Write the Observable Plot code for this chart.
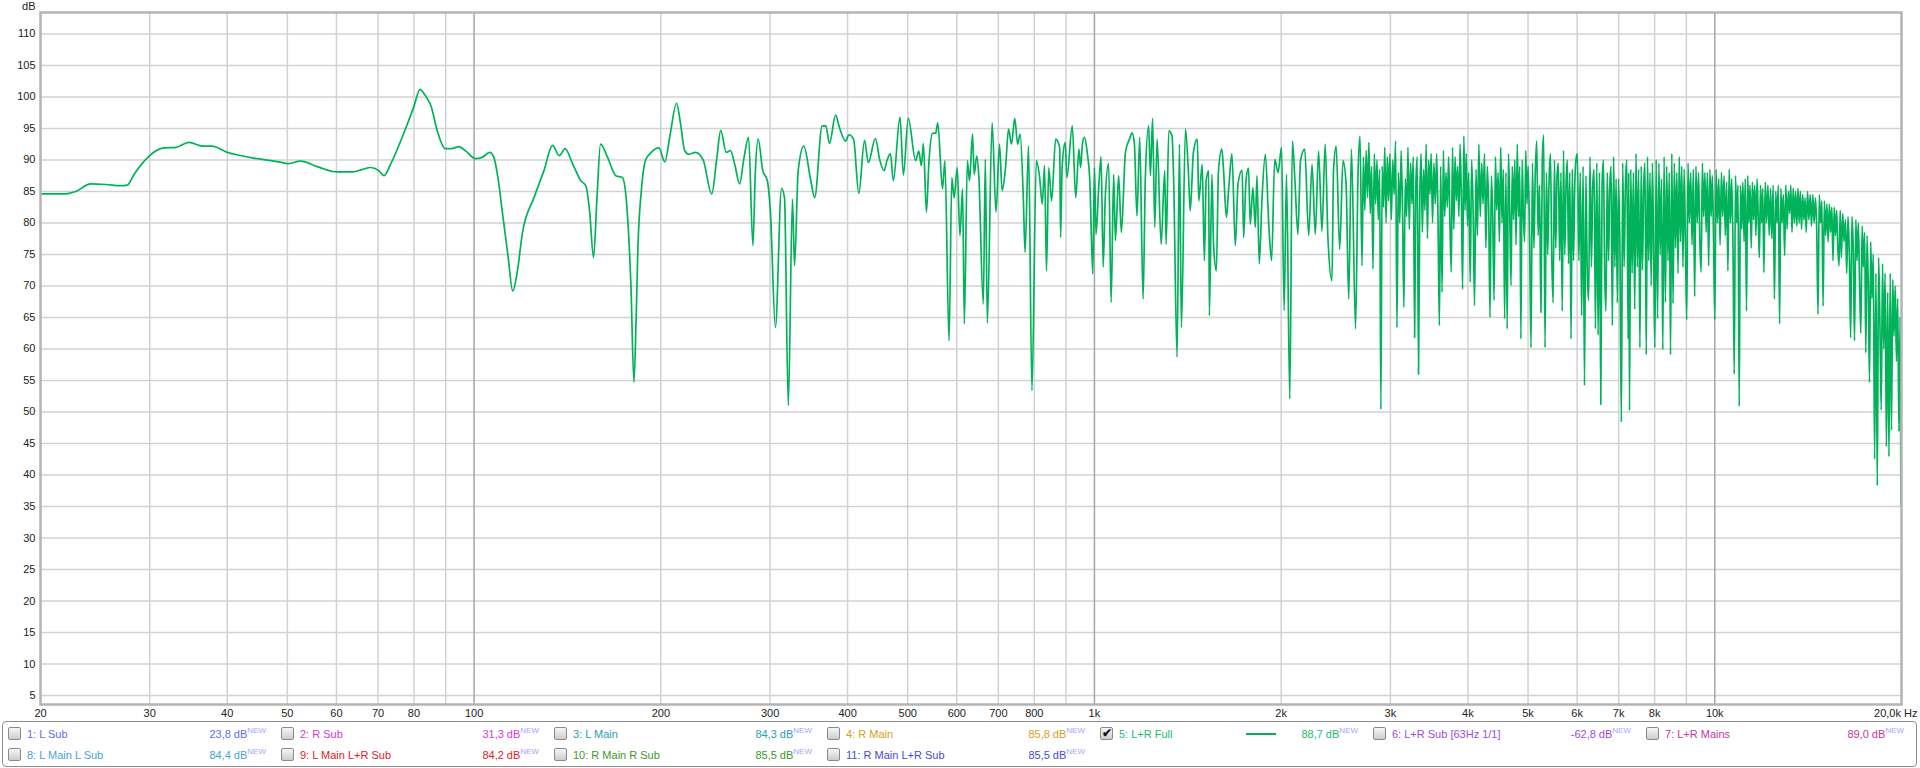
<!DOCTYPE html>
<html><head><meta charset="utf-8">
<script src="https://cdn.jsdelivr.net/npm/d3@7"></script>
<script src="https://cdn.jsdelivr.net/npm/@observablehq/plot@0.6"></script>
<style>
html,body{margin:0;padding:0;background:#fff;width:1920px;height:768px;overflow:hidden;font-family:"Liberation Sans",Arial,sans-serif;}
#chart{position:absolute;left:0;top:0;}
#legend{position:absolute;left:2px;top:721px;width:1915px;height:46px;border:1px solid #8c8c8c;border-radius:4px;box-sizing:border-box;background:#fff;}
.item{position:absolute;height:14px;width:272px;font-size:11px;line-height:14px;white-space:nowrap;}
.cb{position:absolute;left:0;top:0;width:11px;height:11px;border:1px solid #8a8a8a;border-radius:2px;background:linear-gradient(#f6f6f6,#cdcdcd);font-size:12px;line-height:11px;text-align:center;color:#111;font-weight:bold;}
.lab{position:absolute;left:19px;top:0;}
.val{position:absolute;left:140px;width:118px;top:0;text-align:right;}
.val sup{font-size:8px;color:#a4a4ff;vertical-align:top;position:relative;top:-3px;}
.sample{position:absolute;left:146px;width:30px;top:6px;height:2px;}
</style>
</head><body>
<div id="chart"></div>
<div id="legend"></div>
<script>
// Measured response, 20 Hz - 2.68 kHz
const lowFreqHz = [20,21.8,22.8,24.1,25.5,26.9,27.6,28.3,29.2,30,31.6,33.1,34.7,36.5,37.8,40,42,44.1,46.1,48.5,50,52.5,56,60,63.8,66,68.1,70.2,71.6,73.5,77,80,81.8,83.2,85.2,87.3,89.8,92,94.5,97,100.5,103,106,107.6,109.5,111,113.5,115.4,117.5,119.6,125,129.6,133.8,137.2,140.2,144,148.6,151.4,153.5,155.8,157.8,159.9,164,169.2,173.4,176,179,181,182.5,183.7,186,189,193,198.6,203,207,212,215,218.5,222,227.4,234,241.6,246,249.8,255,259,263,268,272,277,281.5,284,287,292,297,300.5,306,313,316.5,321,326,328.5,333,340,349,354,364,369,374,382.6,388,397,402,409,417,426,432,443.5,451,458,463,469,474,486,492,501,515,521,526,530,536,541,548,555,559,569,574,583,589,594,601,607,613,617,624,629,636,640,646,651,662,667,672,684,694,703,710,719,727,735,744,752,759,768,773,783,793,806,816,824,831,837,844,853,866,879,882,887,897,903,921,933,944,950,957,964,973,983,994,1000,1006,1016,1025,1033,1041,1054,1064,1074,1081,1094,1105,1122,1139,1150,1160,1171,1183,1198,1208,1223,1231,1241,1251,1262,1281,1298,1305,1318,1334,1342,1359,1371,1381,1402,1418,1427,1444,1465,1473,1492,1504,1514,1528,1532,1547,1556,1572,1585,1605,1615,1632,1646,1666,1687,1704,1730,1740,1755,1772,1783,1801,1817,1828,1844,1862,1886,1910,1930,1953,1977,2003,2022,2040,2065,2085,2105,2128,2149,2183,2215,2243,2270,2298,2327,2355,2379,2415,2429,2453,2485,2516,2545,2570,2596,2636,2660,2680];
const lowDb = [84.6,84.6,85.0,86.2,86.1,85.9,86.0,87.7,89.5,90.7,91.9,92.0,92.8,92.2,92.2,91.2,90.7,90.3,90.0,89.7,89.4,89.8,88.9,88.1,88.1,88.5,88.8,88.3,87.5,89.5,94.2,98.5,101.2,100.4,98.6,94.5,91.8,91.8,92.1,91.4,90.2,90.4,91.2,90.4,86.5,81.9,74.5,69.2,72.5,78.3,84.1,88.3,92.3,90.7,91.8,89.5,86.7,85.9,82.0,74.5,84.0,92.5,90.5,87.5,87.2,83.5,70.0,54.7,65.0,76.1,85.0,90.0,91.2,91.9,89.7,94.0,99.0,96.0,91.5,90.9,91.2,90.0,84.6,90.0,94.7,91.2,91.5,89.4,86.2,90.0,93.6,76.4,88.0,93.3,88.3,86.7,81.4,63.4,85.5,84.0,51.0,83.8,73.2,88.3,92.2,86.7,84.0,95.4,95.4,92.6,97.1,95.2,93.0,94.0,93.3,84.7,93.1,89.6,93.4,89.9,88.3,89.9,91.0,86.7,96.8,87.6,96.6,89.9,91.4,89.1,92.6,81.7,89.6,94.2,94.3,95.9,85.4,89.9,61.3,87.2,84.0,88.8,78.0,85.4,64.0,89.9,86.7,94.1,87.7,90.6,87.5,67.1,90.1,64.1,95.9,81.7,92.5,85.1,88.8,94.9,92.5,96.6,92.5,94.1,84.0,75.3,92.2,53.4,89.9,87.2,83.0,89.1,72.4,88.8,83.5,93.3,92.0,77.7,88.8,92.8,87.2,95.4,84.0,91.7,88.8,92.8,93.6,91.4,86.7,71.9,88.8,78.2,85.6,90.5,73.0,84.0,89.4,67.4,87.7,77.2,87.5,78.5,91.2,93.3,94.3,92.5,81.1,93.6,67.9,87.2,95.4,87.5,96.6,79.3,93.3,76.6,88.3,76.6,94.6,93.8,86.7,58.7,92.5,63.4,94.9,87.7,81.9,91.2,93.3,83.5,89.3,74.0,86.7,88.3,65.3,87.7,76.6,72.4,88.3,91.7,88.3,80.9,85.4,91.0,76.4,86.2,88.4,77.7,86.7,88.7,79.8,85.6,79.3,87.5,73.5,83.5,90.9,79.8,74.0,90.1,88.0,92.0,66.1,87.7,52.1,93.0,86.7,78.2,89.9,91.7,78.0,89.3,78.2,91.4,78.7,92.5,77.7,70.8,88.3,92.2,75.8,89.9,86.2,67.9,91.7,63.2,87.7,93.8];

// Measured response, 2.7 kHz - 20 kHz (dense part)
const hfFreqHz = [
2700,2714,2728,2742,2756,2770,2784,2798,2812,2826,2840,2854,2868,2882,2896,2910,2924,2938,2952,2966,2980,2994,
3010,3026,3042,3058,3074,3090,3106,3122,3138,3154,3170,3186,3202,3218,3234,3250,3266,3282,3298,3314,3330,3346,3362,3378,3394,3410,3426,3442,3458,3474,3490,
3508,3526,3544,3562,3580,3598,3616,3634,3652,3670,3688,3706,3724,3742,3760,3778,3796,3814,3832,3850,3868,3886,3904,3922,3940,3958,3976,3994,
4012,4034,4056,4078,4100,4122,4144,4166,4188,4210,4232,4254,4276,4298,4320,4342,4364,4386,4408,4430,4452,4474,4496,4518,4540,4562,4584,4606,4628,4650,4672,4694,4716,4738,4760,4782,4804,4826,4848,4870,4892,4914,4936,4958,4980,
5002,5029,5056,5083,5110,5137,5164,5191,5218,5245,5272,5299,5326,5353,5380,5407,5434,5461,5488,5515,5542,5569,5596,5623,5650,5677,5704,5731,5758,5785,5812,5839,5866,5893,5920,5947,5974,
6006,6038,6070,6102,6134,6166,6198,6230,6262,6294,6326,6358,6390,6422,6454,6486,6518,6550,6582,6614,6646,6678,6710,6742,6774,6806,6838,6870,6902,6934,6966,6998,
7034,7070,7106,7142,7178,7214,7250,7268,7286,7322,7358,7394,7430,7466,7502,7538,7574,7610,7646,7682,7718,7754,7790,7826,7862,7898,7934,7970,
8006,8046,8086,8126,8166,8206,8246,8286,8326,8366,8406,8446,8486,8526,8566,8606,8646,8686,8726,8766,8806,8846,8886,8926,8966,
9011,9056,9101,9146,9191,9236,9281,9326,9371,9416,9461,9506,9551,9596,9641,9686,9731,9776,9821,9866,9911,9956,10001,
10050,10100,10150,10200,10250,10300,10350,10400,10450,10500,10550,10600,10650,10700,10750,10800,10850,10900,10950,11000,11050,11100,11150,11200,11250,11300,11350,11400,11450,11500,11550,11600,11650,11700,11750,11800,11850,11900,11950,
12000,12060,12120,12180,12240,12300,12360,12420,12480,12540,12600,12660,12720,12780,12840,12900,12960,13020,13080,13140,13200,13260,13320,13380,13440,13500,13560,13620,13680,13740,13800,13860,13920,13980,
14040,14110,14180,14250,14320,14390,14460,14530,14600,14670,14740,14810,14880,14950,15020,15090,15160,15230,15300,15370,15440,15510,15580,15650,15720,15790,15860,15930,
16000,16080,16160,16240,16320,16400,16480,16560,16640,16720,16800,16880,16960,17040,17120,17200,17280,17360,17440,17520,17600,17680,17760,17840,17920,
18010,18100,18190,18280,18370,18460,18550,18640,18730,18820,18910,19000,19090,19180,19270,19360,19450,19540,19630,19720,19810,19900,19960];
const hfDb = [
73.2,90.5,82.0,91.5,84.0,92.8,81.5,89.0,72.7,91.0,83.0,90.0,80.5,88.5,50.4,89.0,82.5,92.0,80.0,90.5,83.5,91.0,
80.5,90.0,84.5,93.0,63.4,88.0,80.0,91.5,82.0,66.6,87.0,81.0,92.0,79.0,89.5,83.0,90.5,61.8,86.5,90.5,56.0,84.0,91.0,78.5,88.5,82.0,92.5,77.5,90.0,84.5,91.0,
80.0,89.5,83.0,91.0,80.5,63.7,89.0,69.0,91.5,81.0,88.0,82.5,90.5,80.0,72.2,92.0,79.0,90.5,83.5,89.0,81.0,92.5,84.0,69.5,93.8,82.0,91.0,79.5,
88.0,70.6,90.0,82.0,66.9,88.5,78.0,92.5,81.0,89.5,83.0,91.0,76.0,89.0,82.5,65.0,87.5,81.0,67.7,90.5,82.0,88.0,77.0,92.0,80.0,88.5,64.8,88.0,63.2,91.0,82.0,70.1,89.0,80.5,90.0,76.5,92.5,81.0,89.0,61.6,90.0,81.5,77.0,91.5,83.0,
89.0,78.0,60.2,89.5,76.0,88.0,93.0,78.0,86.0,65.8,90.0,94.0,60.2,88.0,75.0,87.0,91.0,74.5,67.3,90.0,76.0,87.5,89.5,74.0,88.0,66.0,91.5,75.0,86.0,90.0,73.5,88.0,61.6,88.5,74.0,86.0,90.0,
91.0,74.0,88.0,65.3,89.0,54.2,87.5,72.0,67.7,90.5,73.0,86.0,88.5,63.2,89.5,62.2,88.0,51.2,86.0,90.0,72.0,66.0,88.0,74.0,86.0,89.0,63.7,90.5,73.0,87.0,67.3,87.0,
75.0,48.4,89.5,73.0,86.0,90.0,61.6,88.0,50.2,88.5,72.0,88.0,66.3,91.0,73.0,88.5,60.2,89.0,72.5,86.0,89.5,59.1,90.5,74.0,88.0,70.1,89.5,75.0,
60.2,90.0,64.8,89.5,75.0,87.0,59.9,90.5,67.4,89.0,74.0,88.0,59.1,91.0,67.2,89.5,76.0,88.0,72.0,90.5,77.0,89.0,73.0,88.5,77.5,
64.6,89.5,80.0,88.0,76.5,88.5,68.3,89.0,80.0,88.0,77.0,72.2,89.5,81.0,88.0,78.5,88.0,73.2,88.5,81.0,87.5,77.0,64.6,
88.5,80.0,87.0,76.5,88.0,81.0,87.5,78.0,86.5,72.4,88.5,80.0,87.0,76.5,56.0,87.5,80.0,86.0,50.9,86.0,79.0,86.5,77.0,87.0,66.0,87.5,80.0,86.0,76.0,86.5,80.5,86.0,78.0,87.0,81.0,74.5,86.0,80.0,85.5,
72.1,86.5,80.0,86.0,78.0,85.5,77.5,86.0,67.9,85.0,80.0,86.0,64.0,85.5,80.0,84.5,74.8,86.0,79.0,85.0,81.5,86.0,78.5,85.5,80.0,85.0,79.5,85.5,80.0,85.0,79.0,84.5,80.5,84.0,
78.5,85.0,80.5,84.5,79.5,84.5,80.0,84.0,79.0,65.5,84.5,80.0,83.5,66.8,83.5,78.0,83.0,77.0,83.0,78.5,82.5,74.0,82.5,78.0,82.0,76.0,73.2,82.0,
74.5,81.5,77.0,80.5,72.0,81.0,75.0,61.8,81.0,76.0,61.3,80.5,74.0,80.0,70.0,62.5,79.5,73.0,78.5,59.4,78.0,70.0,54.7,77.0,68.0,
75.0,42.5,72.0,38.3,74.5,64.0,50.3,73.5,60.0,72.0,44.5,69.0,42.9,72.0,47.1,71.0,62.0,70.0,58.0,68.0,46.9,65.0,35.2];

const dbTicks = [5,10,15,20,25,30,35,40,45,50,55,60,65,70,75,80,85,90,95,100,105,110];
const minorGridHz = [30,40,50,60,70,80,90,200,300,400,500,600,700,800,900,2000,3000,4000,5000,6000,7000,8000,9000];
const majorGridHz = [100,1000,10000];
const xTickHz = [20,30,40,50,60,70,80,90,100,200,300,400,500,600,700,800,900,1000,2000,3000,4000,5000,6000,7000,8000,9000,10000];
const xTickLabels = ["20","30","40","50","60","70","80","90","100","200","300","400","500","600","700","800","900","1k","2k","3k","4k","5k","6k","7k","8k","9k","10k"];
const endLabel = "20,0k Hz";
const yUnit = "dB";

const legendNames = ["1: L Sub","2: R Sub","3: L Main","4: R Main","5: L+R Full","6: L+R Sub [63Hz 1/1]","7: L+R Mains","8: L Main L Sub","9: L Main L+R Sub","10: R Main R Sub","11: R Main L+R Sub"];
const legendValues = ["23,8 dB","31,3 dB","84,3 dB","85,8 dB","88,7 dB","-62,8 dB","89,0 dB","84,4 dB","84,2 dB","85,5 dB","85,5 dB"];
const legendColors = ["#6a6ae6","#d43ad4","#2a9ea8","#d2a01a","#1dbd6a","#9a4ed6","#c6389a","#48a2d6","#e0221e","#3c9a1c","#4848e0"];
const legendChecked = [false,false,false,false,true,false,false,false,false,false,false];
const curveColor = "#00b35a";

const freqHz = lowFreqHz.concat(hfFreqHz);
const levelDb = lowDb.concat(hfDb);
const data = freqHz.map((f, i) => ({f, db: levelDb[i]}));
const labelOf = new Map(xTickHz.map((v, i) => [v, xTickLabels[i]]));

const chart = Plot.plot({
  width: 1920, height: 720,
  marginLeft: 40, marginRight: 19, marginTop: 12, marginBottom: 16,
  style: {fontFamily: '"Liberation Sans", Arial, sans-serif', fontSize: "11px", color: "#222", background: "#fff"},
  x: {type: "log", domain: [20, 20000]},
  y: {domain: [3.57, 113.4]},
  marks: [
    Plot.ruleY(dbTicks, {stroke: "#d2d2d2", strokeWidth: 1.5}),
    Plot.ruleX(minorGridHz, {stroke: "#d2d2d2", strokeWidth: 1.5}),
    Plot.ruleX(majorGridHz, {stroke: "#a6a6a6", strokeWidth: 1.5}),
    Plot.line(data, {x: "f", y: "db", stroke: curveColor, strokeWidth: 1.7, curve: "monotone-x", clip: true}),
    Plot.frame({stroke: "#b4b4b4", strokeWidth: 2.5}),
    Plot.axisY(dbTicks, {tickSize: 0, tickPadding: 5, label: null, fill: "#222"}),
    Plot.axisX(xTickHz, {tickSize: 0, tickPadding: 5, label: null, fill: "#222", tickFormat: d => labelOf.get(d)}),
    Plot.text([endLabel], {frameAnchor: "bottom-right", text: d => d, textAnchor: "end", lineAnchor: "middle", dx: 16, dy: 9, fill: "#222"}),
    Plot.text([yUnit], {frameAnchor: "top-left", text: d => d, textAnchor: "end", lineAnchor: "middle", dx: -5, dy: -6, fill: "#222"})
  ]
});
document.getElementById("chart").appendChild(chart);

const legend = document.getElementById("legend");
legendNames.forEach((name, i) => {
  const row = i < 7 ? 0 : 1;
  const col = i < 7 ? i : i - 7;
  const item = document.createElement("div");
  item.className = "item";
  item.style.left = (5 + 273 * col) + "px";
  item.style.top = (row === 0 ? 5 : 26) + "px";
  item.style.color = legendColors[i];
  const cb = document.createElement("div");
  cb.className = "cb";
  if (legendChecked[i]) cb.textContent = "\u2714";
  item.appendChild(cb);
  const lab = document.createElement("span");
  lab.className = "lab";
  lab.textContent = name;
  item.appendChild(lab);
  if (legendChecked[i]) {
    const s = document.createElement("div");
    s.className = "sample";
    s.style.background = curveColor;
    item.appendChild(s);
  }
  const val = document.createElement("span");
  val.className = "val";
  val.innerHTML = legendValues[i] + "<sup>NEW</sup>";
  item.appendChild(val);
  legend.appendChild(item);
});
</script>
</body></html>
